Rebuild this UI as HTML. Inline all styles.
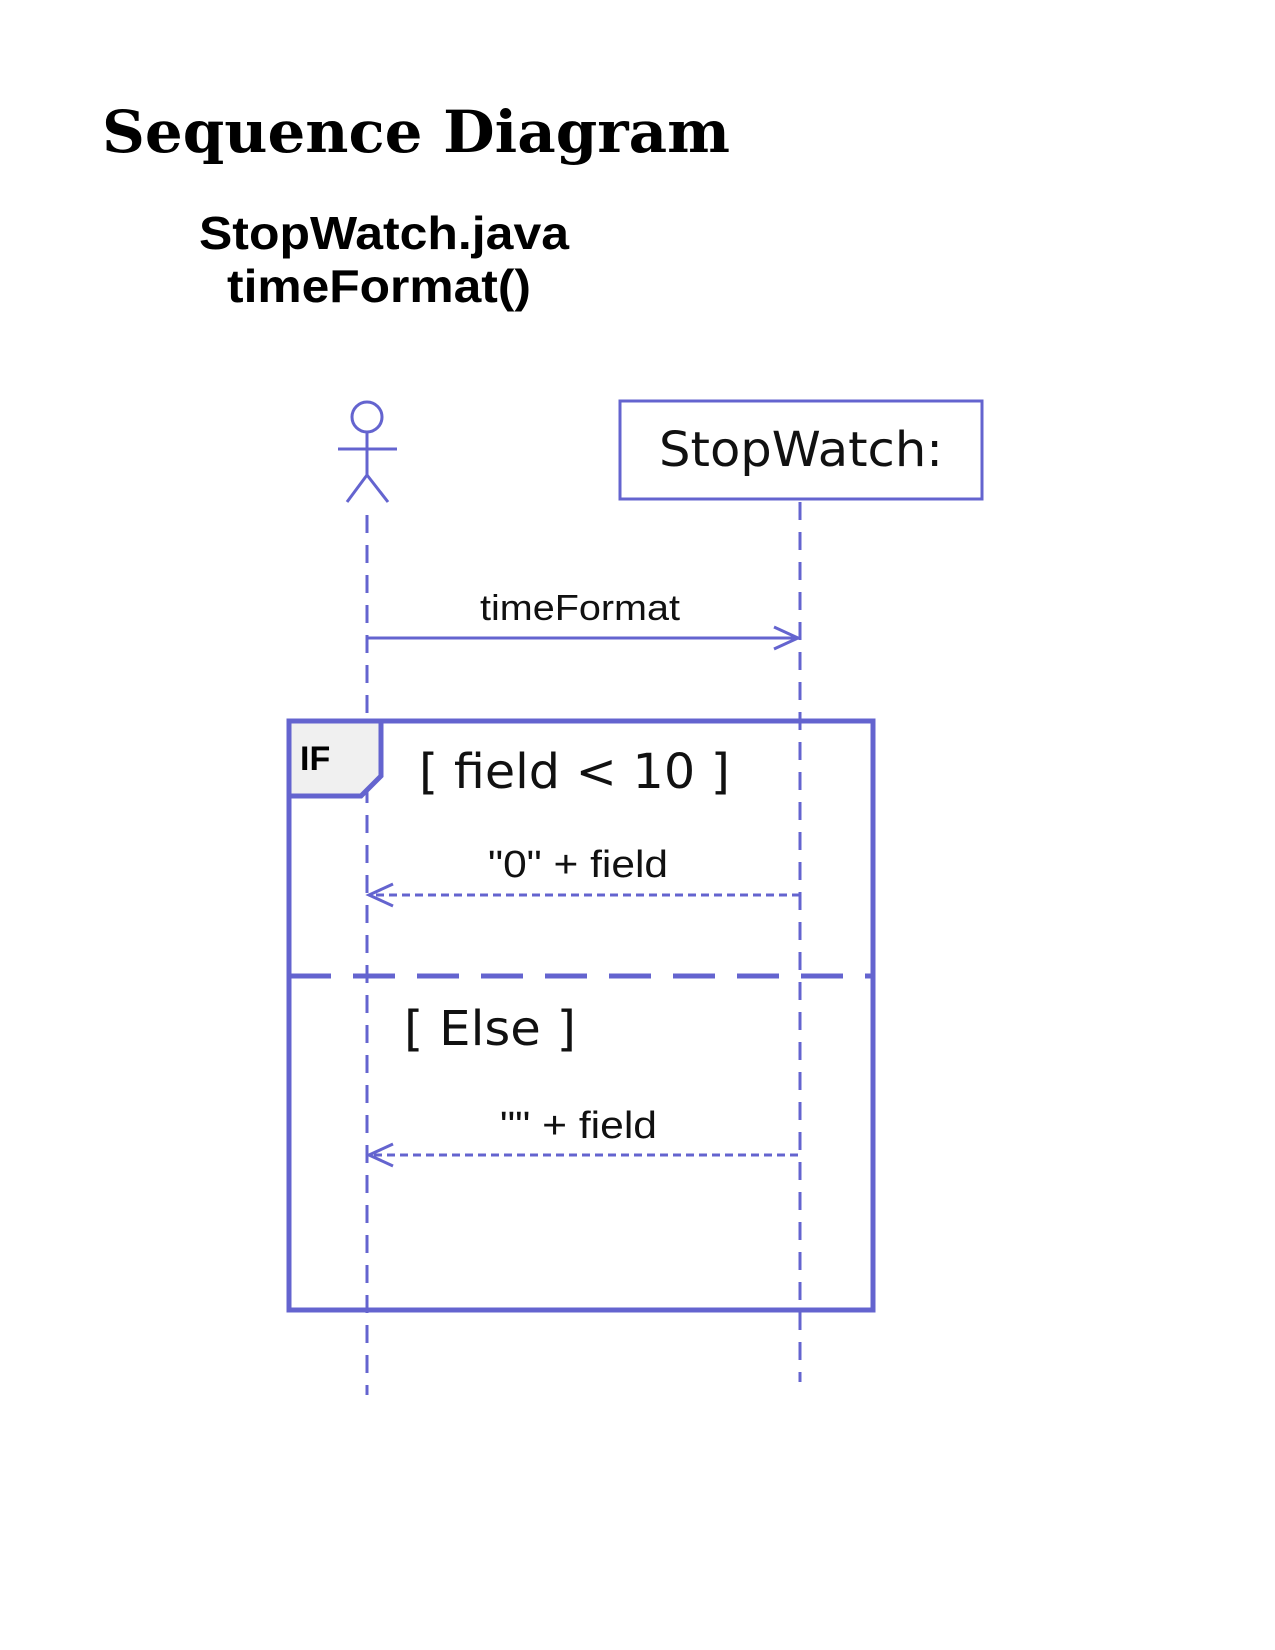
<!DOCTYPE html>
<html><head><meta charset="utf-8"><style>
html,body{margin:0;padding:0;background:#fff;}
svg{display:block;}
</style></head><body>
<svg width="1275" height="1650" viewBox="0 0 1275 1650" xmlns="http://www.w3.org/2000/svg">
<text x="102" y="152" font-family="DejaVu Serif, Liberation Serif, serif" font-weight="bold" font-size="58" textLength="628" lengthAdjust="spacingAndGlyphs" fill="#000">Sequence Diagram</text>
<text x="199" y="249" font-family="Liberation Sans, sans-serif" font-weight="bold" font-size="46" textLength="370" lengthAdjust="spacingAndGlyphs" fill="#000">StopWatch.java</text>
<text x="227" y="302" font-family="Liberation Sans, sans-serif" font-weight="bold" font-size="46" textLength="304" lengthAdjust="spacingAndGlyphs" fill="#000">timeFormat()</text>

<g stroke="#6464cf" fill="none">
  <!-- actor -->
  <circle cx="367" cy="417" r="15" stroke-width="3"/>
  <line x1="367" y1="432" x2="367" y2="475" stroke-width="3"/>
  <line x1="338" y1="449" x2="397" y2="449" stroke-width="3"/>
  <line x1="367" y1="475" x2="347" y2="502" stroke-width="3"/>
  <line x1="367" y1="475" x2="388" y2="502" stroke-width="3"/>
  <!-- lifelines -->
  <line x1="367" y1="515" x2="367" y2="1395" stroke-width="3" stroke-dasharray="18,12"/>
  <line x1="800" y1="502" x2="800" y2="1382" stroke-width="3" stroke-dasharray="18,12"/>
  <!-- object box -->
  <rect x="620" y="401" width="362" height="98" stroke-width="3"/>
  <!-- message 1 -->
  <line x1="367" y1="638" x2="798" y2="638" stroke-width="3"/>
  <polyline points="774,627 798,638 774,649" stroke-width="3"/>
  <!-- frame -->
  <rect x="289" y="721" width="584" height="589" stroke-width="5"/>
  <path d="M289,721 L381,721 L381,776 L361,796 L289,796 Z" fill="#f0f0f0" stroke-width="5"/>
  <!-- message 2 -->
  <line x1="800" y1="895" x2="369" y2="895" stroke-width="3" stroke-dasharray="8,5"/>
  <polyline points="393,884 369,895 393,906" stroke-width="3"/>
  <!-- separator -->
  <line x1="289" y1="976" x2="873" y2="976" stroke-width="5" stroke-dasharray="42,22"/>
  <!-- message 3 -->
  <line x1="798" y1="1155" x2="369" y2="1155" stroke-width="3" stroke-dasharray="8,5"/>
  <polyline points="393,1144 369,1155 393,1166" stroke-width="3"/>
</g>

<text x="801" y="466" text-anchor="middle" font-family="DejaVu Sans, sans-serif" font-size="48" textLength="284" lengthAdjust="spacingAndGlyphs" fill="#111">StopWatch:</text>
<text x="480" y="620" font-family="Liberation Sans, sans-serif" font-size="36" textLength="200" lengthAdjust="spacingAndGlyphs" fill="#111">timeFormat</text>
<text x="300" y="770" font-family="Liberation Sans, sans-serif" font-weight="bold" font-size="34" fill="#000">IF</text>
<text x="419" y="788" font-family="DejaVu Sans, sans-serif" font-size="48" textLength="311" lengthAdjust="spacingAndGlyphs" fill="#111">[ field &lt; 10 ]</text>
<text x="488" y="877" font-family="Liberation Sans, sans-serif" font-size="38" textLength="180" lengthAdjust="spacingAndGlyphs" fill="#111">"0" + field</text>
<text x="404" y="1045" font-family="DejaVu Sans, sans-serif" font-size="48" textLength="172" lengthAdjust="spacingAndGlyphs" fill="#111">[ Else ]</text>
<text x="500" y="1138" font-family="Liberation Sans, sans-serif" font-size="38" textLength="157" lengthAdjust="spacingAndGlyphs" fill="#111">"" + field</text>
</svg>
</body></html>
